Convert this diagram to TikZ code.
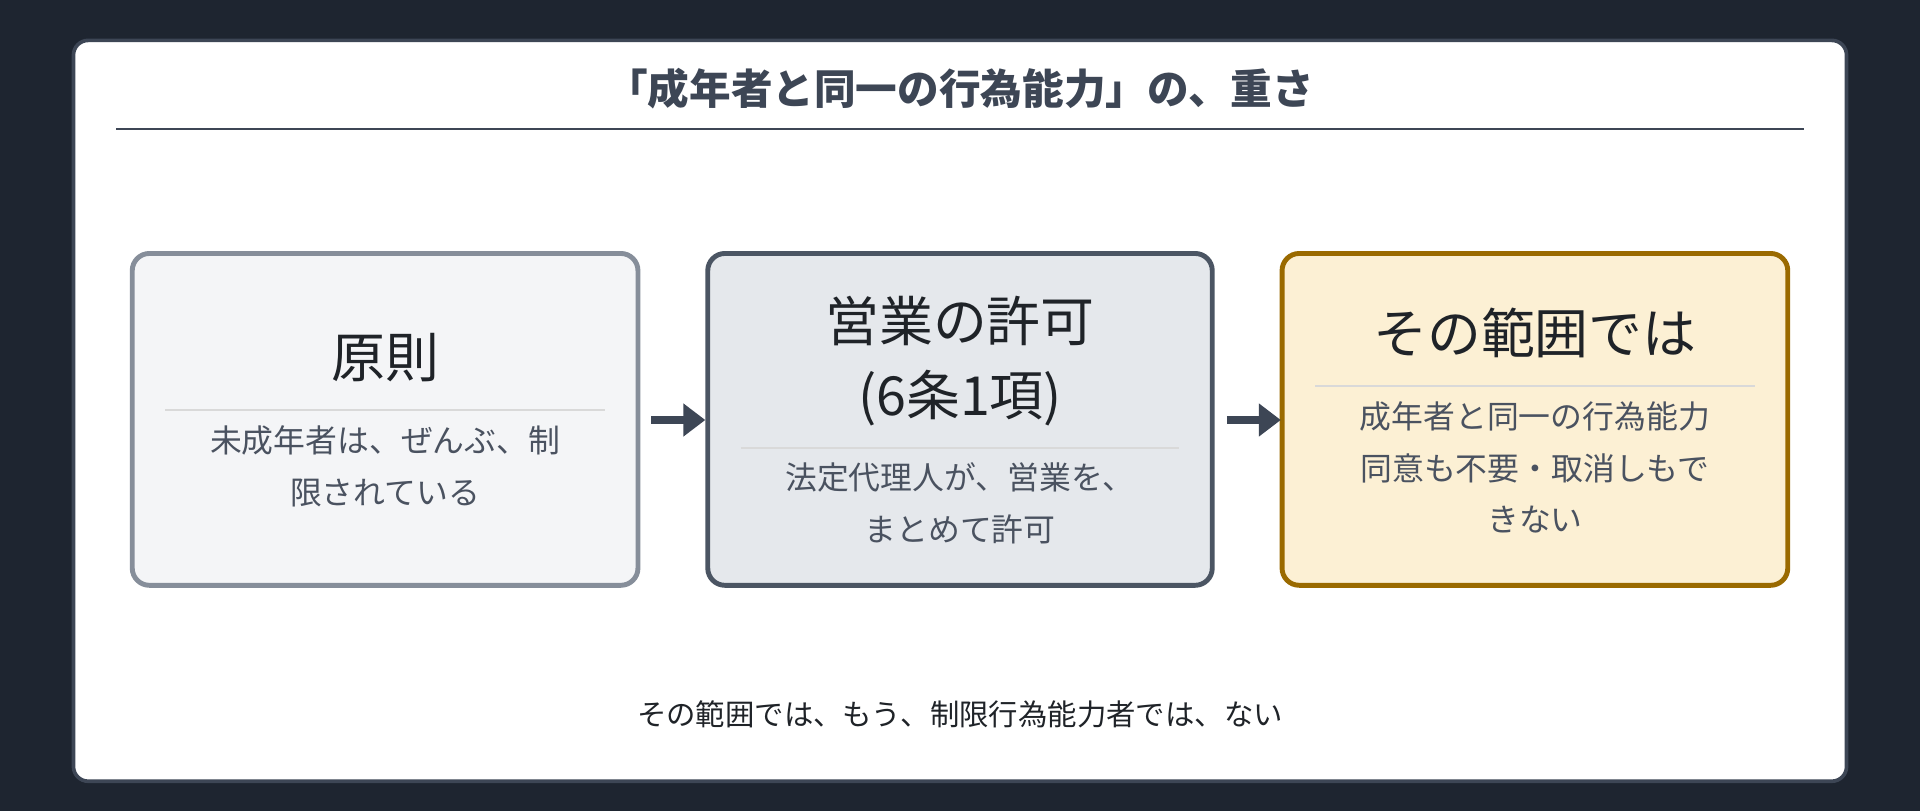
\documentclass[tikz,border=0pt]{standalone}
\usepackage{fontspec}
\setmainfont{Noto Sans CJK JP}
\usetikzlibrary{arrows.meta}
\definecolor{bg}{HTML}{1E2530}
\definecolor{frame}{HTML}{3D4655}
\definecolor{bAd}{HTML}{868E9A}\definecolor{bAf}{HTML}{F4F5F7}
\definecolor{bBd}{HTML}{4B5563}\definecolor{bBf}{HTML}{E5E8EC}
\definecolor{bCd}{HTML}{9A6A00}\definecolor{bCf}{HTML}{FCF0D4}
\definecolor{ttxt}{HTML}{1F2328}\definecolor{stxt}{HTML}{4A5260}
\begin{document}
\begin{tikzpicture}[x=0.5pt,y=-0.5pt,
  box/.style={draw,line width=2pt,rounded corners=7pt},
  ttl/.style={font=\fontsize{22}{30}\selectfont,text=ttxt,align=center},
  sub/.style={font=\fontsize{13}{21}\selectfont,text=stxt,align=center},
  sep/.style={draw=black!15,line width=0.8pt},
  arr/.style={draw=frame,line width=3pt,-{Triangle[length=9pt,width=13pt]}}]
\fill[bg] (0,0) rectangle (1568,662);
\useasboundingbox (0,0) rectangle (1568,662);
\draw[frame,fill=white,line width=1.5pt,rounded corners=6pt] (60,33) rectangle (1508,638);
\node[font=\bfseries\fontsize{17}{20}\selectfont,text=frame] (t) at (784,72) {「成年者と同一の行為能力」の、重さ};
\draw[frame,line width=0.8pt] (95,105) -- (1473,105);
% box A
\draw[box,draw=bAd,fill=bAf] (108,207) rectangle (521,478);
\coordinate (A) at (108,343);\coordinate (Ae) at (521,343);
\node[ttl] (a1) at (314.5,292) {原則};
\draw[sep] (135,335) -- (494,335);
\node[sub] (a2) at (314.5,381) {未成年者は、ぜんぶ、制\\限されている};
% box B
\draw[box,draw=bBd,fill=bBf] (578,207) rectangle (990,478);
\coordinate (B) at (578,343);\coordinate (Be) at (990,343);
\node[ttl] (b1) at (784,295) {営業の許可\\(6条1項)};
\draw[sep] (605,366) -- (963,366);
\node[sub] (b2) at (784,411) {法定代理人が、営業を、\\まとめて許可};
% box C
\draw[box,draw=bCd,fill=bCf] (1047,207) rectangle (1460,478);
\coordinate (C) at (1047,343);
\node[ttl] (c1) at (1253.5,272) {その範囲では};
\draw[sep] (1074,315) -- (1433,315);
\node[sub] (c2) at (1253.5,382) {成年者と同一の行為能力\\同意も不要・取消しもで\\きない};
% arrows
\coordinate (a0) at (532,343);\coordinate (a9) at (576,343);
\coordinate (b0) at (1002,343);\coordinate (b9) at (1046,343);
\draw[arr] (a0) -- (a9);
\draw[arr] (b0) -- (b9);
\node[font=\fontsize{12}{16}\selectfont,text=ttxt] (f) at (784,583) {その範囲では、もう、制限行為能力者では、ない};
\end{tikzpicture}
\end{document}
